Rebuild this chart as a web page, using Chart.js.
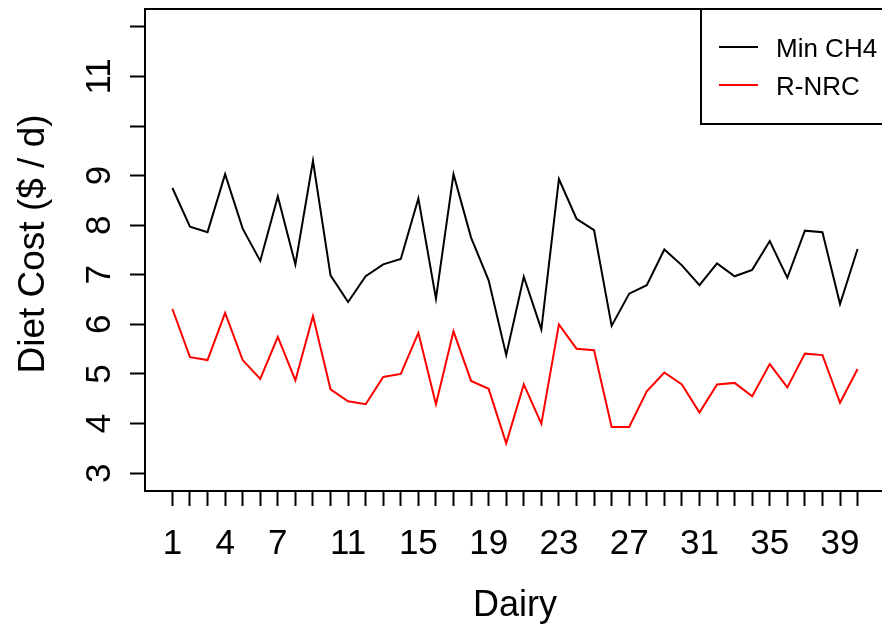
<!DOCTYPE html>
<html>
<head>
<meta charset="utf-8">
<script src="https://cdn.jsdelivr.net/npm/chart.js@4.4.1/dist/chart.umd.min.js"></script>
<style>
  html, body { margin: 0; padding: 0; background: #fff; overflow: hidden; }
  #wrap { width: 882px; height: 626px; overflow: hidden; }
</style>
</head>
<body>
<div id="wrap"><canvas id="chart" width="888" height="626"></canvas></div>
<script>
// dairy numbers along the x axis
const dairyIds = [1, 2, 3, 4, 5, 6, 7, 8, 9, 10, 11, 12, 13, 14, 15, 16, 17, 18, 19, 20,
                  21, 22, 23, 24, 25, 26, 27, 28, 29, 30, 31, 32, 33, 34, 35, 36, 37, 38, 39, 40];
// diet cost ($ / d)
const minCH4 = [8.75, 7.97, 7.86, 9.03, 7.93, 7.28, 8.58, 7.21, 9.30, 6.99,
                6.45, 6.97, 7.21, 7.32, 8.54, 6.52, 9.03, 7.75, 6.89, 5.38,
                6.96, 5.90, 8.93, 8.13, 7.90, 5.97, 6.62, 6.79, 7.51, 7.19,
                6.79, 7.23, 6.97, 7.10, 7.68, 6.94, 7.89, 7.86, 6.41, 7.52];
const rNRC = [6.31, 5.34, 5.28, 6.23, 5.28, 4.90, 5.75, 4.87, 6.17, 4.69,
              4.45, 4.39, 4.94, 5.00, 5.83, 4.39, 5.86, 4.86, 4.70, 3.60,
              4.79, 4.00, 6.00, 5.51, 5.48, 3.93, 3.93, 4.65, 5.03, 4.79,
              4.22, 4.79, 4.82, 4.55, 5.20, 4.73, 5.41, 5.38, 4.42, 5.10];
const seriesNames = ['Min CH4', 'R-NRC'];
// axis ticks (R drops the labels that would overlap)
const xTicks = dairyIds;
const xTickLabels = [1, 4, 7, 11, 15, 19, 23, 27, 31, 35, 39];
const yTicks = [3, 4, 5, 6, 7, 8, 9, 10, 11, 12];
const yTickLabels = [3, 4, 5, 6, 7, 8, 9, 11];
const xTitle = 'Dairy';
const yTitle = 'Diet Cost ($ / d)';

const FONT = "'Liberation Sans', Arial, Helvetica, sans-serif";

function points(values) {
    return values.map((v, i) => ({ x: dairyIds[i], y: v }));
}

// R style box, rotated y labels, titles and the legend box
const basePlot = {
    id: 'basePlot',
    afterDraw(chart) {
        const ctx = chart.ctx;
        const area = chart.chartArea;
        const xs = chart.scales.x;
        const ys = chart.scales.y;
        ctx.save();
        ctx.strokeStyle = '#000';
        ctx.lineWidth = 2;
        ctx.strokeRect(area.left, area.top, area.right - area.left, area.bottom - area.top);

        ctx.fillStyle = '#000';
        ctx.font = '35px ' + FONT;
        ctx.textAlign = 'center';
        ctx.textBaseline = 'alphabetic';
        xTickLabels.forEach(v => {
            ctx.fillText(String(v), xs.getPixelForValue(v), 554);
        });
        yTickLabels.forEach(v => {
            ctx.save();
            ctx.translate(110, ys.getPixelForValue(v));
            ctx.rotate(-Math.PI / 2);
            ctx.fillText(String(v), 0, 0);
            ctx.restore();
        });

        ctx.font = '36px ' + FONT;
        ctx.fillText(xTitle, (area.left + area.right) / 2, 616);
        ctx.save();
        ctx.font = '37px ' + FONT;
        ctx.translate(44, 244);
        ctx.rotate(-Math.PI / 2);
        ctx.fillText(yTitle, 0, 0);
        ctx.restore();

        // legend
        const lx = 701, ly = area.top, lh = 115;
        ctx.fillStyle = '#fff';
        ctx.fillRect(lx, ly, 200, lh);
        ctx.strokeRect(lx, ly, 200, lh);
        ctx.font = '26px ' + FONT;
        ctx.textAlign = 'left';
        ctx.textBaseline = 'middle';
        chart.data.datasets.forEach((ds, i) => {
            const y = ly + 38 + i * 38;
            ctx.strokeStyle = ds.borderColor;
            ctx.lineWidth = 2;
            ctx.beginPath();
            ctx.moveTo(719, y);
            ctx.lineTo(758, y);
            ctx.stroke();
            ctx.fillStyle = '#000';
            ctx.fillText(ds.label, 776, y + 3);
        });
        ctx.restore();
    }
};

new Chart(document.getElementById('chart'), {
    type: 'line',
    data: {
        datasets: [{
            label: seriesNames[0],
            data: points(minCH4),
            borderColor: '#000000',
            borderWidth: 2,
            pointRadius: 0,
            tension: 0
        }, {
            label: seriesNames[1],
            data: points(rNRC),
            borderColor: '#ff0000',
            borderWidth: 2,
            pointRadius: 0,
            tension: 0
        }]
    },
    options: {
        responsive: false,
        animation: false,
        layout: {
            padding: { top: 9, right: 3, left: 0, bottom: 0 }
        },
        plugins: {
            legend: { display: false },
            tooltip: { enabled: false }
        },
        scales: {
            x: {
                type: 'linear',
                min: -0.56,
                max: 41.56,
                afterBuildTicks: s => { s.ticks = xTicks.map(v => ({ value: v })); },
                afterFit: s => { s.height = 626 - 491; },
                ticks: { display: false },
                border: { display: false },
                grid: {
                    drawOnChartArea: false,
                    drawTicks: true,
                    tickLength: 15,
                    tickWidth: 2,
                    tickColor: '#000'
                }
            },
            y: {
                type: 'linear',
                min: 2.64,
                max: 12.36,
                afterBuildTicks: s => { s.ticks = yTicks.map(v => ({ value: v })); },
                afterFit: s => { s.width = 145; },
                ticks: { display: false },
                border: { display: false },
                grid: {
                    drawOnChartArea: false,
                    drawTicks: true,
                    tickLength: 15,
                    tickWidth: 2,
                    tickColor: '#000'
                }
            }
        }
    },
    plugins: [basePlot]
});
</script>
</body>
</html>
